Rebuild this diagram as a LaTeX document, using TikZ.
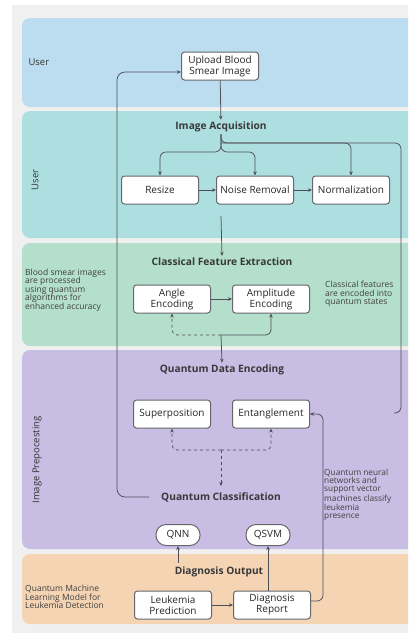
\documentclass[tikz,border=0pt]{standalone}
\usepackage{fontspec}
\setmainfont{Open Sans}
\usetikzlibrary{arrows.meta}

\definecolor{bgGrey}{HTML}{F0F0F0}
\definecolor{laneBlue}{HTML}{BCDCEF}
\definecolor{laneTeal}{HTML}{AEDFE0}
\definecolor{laneGreen}{HTML}{B3DFCC}
\definecolor{lanePurple}{HTML}{C8BDE2}
\definecolor{laneOrange}{HTML}{F5D4B4}
\definecolor{lineGrey}{HTML}{4E4E58}
\definecolor{boxGrey}{HTML}{66666C}

\tikzset{
  box/.style={draw=boxGrey, line width=1pt, fill=white, rounded corners=3pt,
    minimum width=77pt, minimum height=28pt, align=center, inner sep=1pt,
    font=\fontsize{10}{11}\selectfont, text=black!85},
  pill/.style={box, rounded corners=10pt, minimum width=44pt, minimum height=21pt},
  head/.style={font=\fontsize{10.2}{12}\selectfont\bfseries, text=black!78, inner sep=2pt},
  side/.style={font=\fontsize{9.5}{11}\selectfont, text=black!80},
  note/.style={font=\fontsize{8.5}{8.6}\selectfont, text=black!75, align=left, anchor=west, inner sep=0pt},
  arr/.style={draw=lineGrey, line width=0.75pt, -{Stealth[length=4pt,width=3.5pt]}},
  wire/.style={draw=lineGrey, line width=0.75pt}
}

\begin{document}
\begin{tikzpicture}[x=1pt,y=-1pt]
\useasboundingbox (0,0) rectangle (408,633);
\clip (0,0) rectangle (408,633);

% lanes
\fill[bgGrey] (12,5) rectangle (420,640);
\fill[laneBlue, rounded corners=8pt] (22,18) rectangle (430,107);
\fill[laneTeal, rounded corners=8pt] (22,111) rectangle (430,238);
\fill[laneGreen, rounded corners=8pt] (22,243) rectangle (430,346);
\fill[lanePurple, rounded corners=8pt] (22,350) rectangle (430,549);
\fill[laneOrange, rounded corners=8pt] (22,554) rectangle (430,624);

% lane labels
\node[side, anchor=west] (userA) at (25,62) {User};
\node[side, rotate=90] (userB) at (35,180) {User};
\node[side, rotate=90] (prep) at (37,460) {Image Prepocesting};
\node[note] (noteA) at (25,290) {Blood smear images\\are processed\\using quantum\\algorithms for\\enhanced accuracy};
\node[note] (noteB) at (325,294) {Classical features\\are encoded into\\quantum states};
\node[note, font=\fontsize{8.3}{7.9}\selectfont] (noteC) at (324,495) {Quantum neural\\networks and\\support vector\\machines classify\\leukemia\\presence};
\node[note] (noteD) at (25,597) {Quantum Machine\\Learning Model for\\Leukemia Detection};

% nodes
\node[box] (upload) at (220,66) {Upload Blood\\Smear Image};
\node[head] (acq) at (221,127) {Image Acquisition};
\node[box] (resize) at (160,190) {Resize};
\node[box] (noise) at (255,190) {Noise Removal};
\node[box] (norm) at (351,190) {Normalization};
\node[head] (cfe) at (222,262) {Classical Feature Extraction};
\node[box] (angle) at (172,299) {Angle\\Encoding};
\node[box] (ampl) at (271,299) {Amplitude\\Encoding};
\node[head] (qde) at (222,370) {Quantum Data Encoding};
\node[box] (super) at (172,414) {Superposition};
\node[box] (ent) at (271,414) {Entanglement};
\node[head] (qc) at (221,497) {Quantum Classification};
\node[pill] (qnn) at (178,535) {QNN};
\node[pill] (qsvm) at (268,535) {QSVM};
\node[head] (out) at (219,572) {Diagnosis Output};
\node[box] (pred) at (173,605) {Leukemia\\Prediction};
\node[box] (report) at (272,605) {Diagnosis\\Report};

\coordinate (fork) at (221,152);
\coordinate (tap) at (221,143);
\coordinate (loopEnd) at (394,413);
\coordinate (below) at (221,216);
\coordinate (joinA) at (221,335);
\coordinate (joinB) at (221,450);
\coordinate (loopL) at (117,72);
\coordinate (loopR) at (323,414);
\coordinate (outL) at (178,563);

% connectors
\draw[arr] (upload) -- (acq);
\draw[arr, rounded corners=6pt] (acq.south) -- (fork) -| (resize.north);
\draw[arr, rounded corners=6pt] (acq.south) -- (fork) -| (noise.north);
\draw[arr, rounded corners=6pt] (acq.south) -- (tap) -| (norm.north);
\draw[wire, rounded corners=6pt] (tap) -- (401,143) -- (401,413) -- (loopEnd);
\draw[arr] (resize) -- (noise);
\draw[arr] (noise) -- (norm);
\draw[arr] (below) -- (cfe.north);
\draw[arr] (angle) -- (ampl);
\draw[arr, dashed, rounded corners=5pt] (joinA) -| (angle.south);
\draw[arr, rounded corners=5pt] (joinA) -| (ampl.south);
\draw[arr] (joinA) -- (qde.north);
\draw[arr, dashed, rounded corners=5pt] (joinB) -| (super.south);
\draw[arr, dashed, rounded corners=5pt] (joinB) -| (ent.south);
\draw[arr, dashed] (joinB) -- ([yshift=4pt]qc.north);
\draw[arr, rounded corners=8pt] ([xshift=-10pt]qc.west) -| (loopL) -- ([yshift=-6pt]upload.west);
\draw[arr] (outL) -- (qnn.south);
\draw[arr] (qsvm.south |- report.north) -- (qsvm.south);
\draw[arr] (pred) -- (report);
\draw[arr, rounded corners=6pt] ([yshift=4pt]report.east) -| (loopR) -- (ent.east);
\end{tikzpicture}
\end{document}
